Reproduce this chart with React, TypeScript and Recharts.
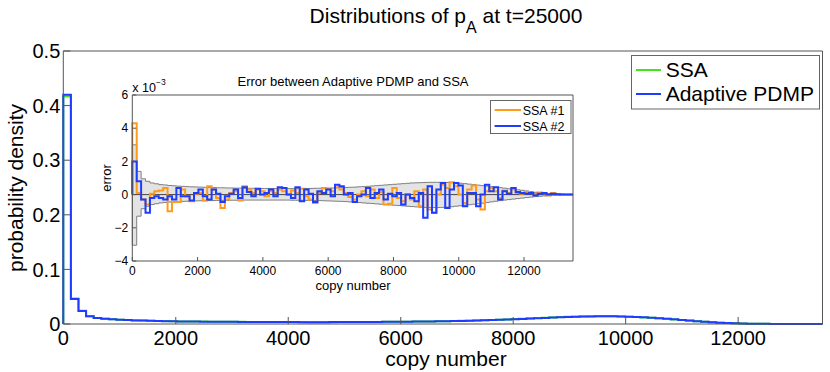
import { LineChart, Line, ComposedChart, Area, XAxis, YAxis, ReferenceLine } from 'recharts'

const FONT = "'Liberation Sans', Arial, Helvetica, sans-serif"
const AXIS = '#555'
const GREEN = '#44e31b'
const BLUE = '#1d3cff'
const ORANGE = '#ff9a1a'

// histogram bins: 100 bins of width 135 over [0, 13500]
const BIN_WIDTH = 135
const X_MAX = 13500

const xTicks = [0, 2000, 4000, 6000, 8000, 10000, 12000]
const mainYTicks = [0, 0.1, 0.2, 0.3, 0.4, 0.5]
const insetYTicks = [-4, -2, 0, 2, 4, 6]

// --- main panel: probability density per bin ---

const ssaDensity = [
  0.4165, 0.0465, 0.0243, 0.0141, 0.0112, 0.0096, 0.0087, 0.0079, 0.0073, 0.0067,
  0.0063, 0.0059, 0.0056, 0.0053, 0.0051, 0.0048, 0.0047, 0.0045, 0.0044, 0.0042,
  0.0041, 0.004, 0.0039, 0.0039, 0.0038, 0.0037, 0.0036, 0.0036, 0.0036, 0.0035,
  0.0035, 0.0035, 0.0034, 0.0034, 0.0034, 0.0034, 0.0035, 0.0035, 0.0036, 0.0036,
  0.0037, 0.0038, 0.0039, 0.004, 0.0041, 0.0043, 0.0044, 0.0046, 0.0048, 0.005,
  0.0052, 0.0055, 0.0058, 0.0061, 0.0065, 0.0069, 0.0074, 0.0079, 0.0084, 0.009,
  0.0096, 0.0102, 0.0108, 0.0114, 0.012, 0.0126, 0.0131, 0.0135, 0.0139, 0.0142,
  0.0144, 0.0144, 0.0142, 0.0139, 0.0134, 0.0128, 0.0121, 0.0113, 0.0104, 0.0094,
  0.0083, 0.0072, 0.0061, 0.0051, 0.0041, 0.0032, 0.0024, 0.0018, 0.0013, 0.0009,
  0.0006, 0.0004, 0.0003, 0.0002, 0.0001, 0.0001, 0.00005, 0.00003, 0.00002, 0.00001,
]

const pdmpDensity = [
  0.42, 0.046, 0.024, 0.014, 0.011, 0.0095, 0.0085, 0.0078, 0.0072, 0.0066,
  0.0062, 0.0058, 0.0055, 0.0052, 0.005, 0.0048, 0.0046, 0.0045, 0.0043, 0.0042,
  0.0041, 0.004, 0.0039, 0.0038, 0.0038, 0.0037, 0.0036, 0.0036, 0.0035, 0.0035,
  0.0035, 0.0034, 0.0034, 0.0034, 0.0034, 0.0035, 0.0035, 0.0035, 0.0036, 0.0036,
  0.0037, 0.0038, 0.0039, 0.004, 0.0041, 0.0042, 0.0044, 0.0045, 0.0047, 0.0049,
  0.0051, 0.0054, 0.0057, 0.006, 0.0064, 0.0068, 0.0072, 0.0077, 0.0082, 0.0088,
  0.0093, 0.0099, 0.0105, 0.0111, 0.0117, 0.0123, 0.0128, 0.0132, 0.0136, 0.0139,
  0.0141, 0.0142, 0.0141, 0.0139, 0.0135, 0.013, 0.0123, 0.0115, 0.0106, 0.0096,
  0.0085, 0.0074, 0.0063, 0.0052, 0.0042, 0.0033, 0.0025, 0.0018, 0.0013, 0.0009,
  0.0006, 0.0004, 0.0003, 0.0002, 0.0001, 0.0001, 0.00005, 0.00003, 0.00002, 0.00001,
]

// --- inset: error per bin, in units of 1e-3 ---

const errSsa1 = [
  4.3, 0.1, -0.3, -0.6, 0.05, 0.2, 0.25, 0.4, -1.0, -0.45,
  -0.45, 0.3, -0.1, -0.4, 0.05, 0.1, -0.35, 0.5, 0.3, -0.2,
  -0.8, -0.3, 0.1, 0.2, -0.35, 0.5, 0.3, 0.1, 0.3, 0.2,
  -0.1, 0.2, 0.1, 0.3, 0.2, 0.0, 0.25, 0.1, 0.35, -0.1,
  -0.3, -0.5, 0.1, 0.4, 0.35, 0.2, 0.45, 0.3, 0.1, -0.15,
  -0.3, 0.0, 0.2, -0.1, 0.3, -0.2, 0.15, -0.6, -0.55, 0.4,
  -0.2, -0.4, 0.0, -0.3, 0.2, -0.7, 0.3, -0.9, -1.1, 0.0,
  0.6, 0.4, 0.75, 0.5, 0.0, -0.5, 0.3, 0.55, -0.3, -0.9,
  0.2, 0.4, 0.2, -0.2, 0.25, 0.1, 0.3, 0.1, 0.05, 0.15,
  0.1, 0.05, 0.12, 0.08, -0.05, 0.1, 0.03, 0.02, 0.0, 0.0,
]

const errSsa2 = [
  2.0, 0.8, -0.3, -1.1, -0.2, -0.1, -0.2, -0.3, -0.1, -0.3,
  0.4, -0.1, -0.1, -0.35, 0.1, 0.3, -0.1, -0.3, 0.3, 0.05,
  -0.45, -0.1, 0.05, 0.3, -0.2, 0.45, 0.15, -0.1, 0.35, 0.0,
  0.1, 0.3, -0.1, 0.45, 0.4, 0.0, -0.2, 0.45, -0.4, 0.3,
  0.05, -0.45, 0.2, 0.1, 0.3, -0.1, 0.6, 0.5, 0.0, 0.1,
  -0.45, -0.1, 0.0, 0.4, -0.2, 0.1, 0.3, -0.3, 0.05, -0.1,
  0.1, -0.6, 0.0, -0.2, -0.4, 0.1, -1.4, 0.5, -1.1, 0.3,
  0.7, -0.8, 0.3, 0.7, 0.55, -0.7, 0.1, 0.1, -0.7, 0.0,
  0.6, 0.2, 0.45, -0.3, 0.2, 0.05, 0.4, 0.15, 0.1, 0.05,
  0.1, -0.05, 0.05, 0.1, 0.0, 0.05, 0.02, 0.0, 0.0, 0.0,
]

const bandUpper = [
  3.0, 1.4, 0.95, 0.8, 0.7, 0.65, 0.6, 0.58, 0.55, 0.53,
  0.51, 0.5, 0.48, 0.47, 0.46, 0.45, 0.44, 0.43, 0.42, 0.41,
  0.41, 0.4, 0.4, 0.39, 0.39, 0.38, 0.38, 0.38, 0.37, 0.37,
  0.37, 0.37, 0.36, 0.36, 0.36, 0.36, 0.36, 0.36, 0.37, 0.37,
  0.37, 0.38, 0.38, 0.39, 0.39, 0.4, 0.41, 0.42, 0.43, 0.44,
  0.45, 0.47, 0.48, 0.5, 0.52, 0.54, 0.56, 0.58, 0.6, 0.62,
  0.64, 0.66, 0.68, 0.7, 0.71, 0.72, 0.73, 0.74, 0.74, 0.74,
  0.74, 0.73, 0.72, 0.7, 0.68, 0.66, 0.63, 0.6, 0.57, 0.54,
  0.51, 0.48, 0.45, 0.42, 0.39, 0.35, 0.32, 0.29, 0.26, 0.22,
  0.18, 0.14, 0.11, 0.08, 0.06, 0.04, 0.03, 0.02, 0.01, 0.01,
]

const bandLower = [
  -3.05, -1.3, -0.85, -0.7, -0.6, -0.55, -0.5, -0.47, -0.45, -0.43,
  -0.42, -0.41, -0.4, -0.39, -0.38, -0.37, -0.37, -0.36, -0.36, -0.35,
  -0.35, -0.35, -0.34, -0.34, -0.34, -0.33, -0.33, -0.33, -0.33, -0.33,
  -0.33, -0.33, -0.33, -0.33, -0.33, -0.33, -0.34, -0.34, -0.34, -0.35,
  -0.35, -0.36, -0.36, -0.37, -0.38, -0.39, -0.4, -0.41, -0.42, -0.44,
  -0.46, -0.48, -0.5, -0.52, -0.54, -0.56, -0.58, -0.6, -0.62, -0.64,
  -0.66, -0.68, -0.7, -0.72, -0.74, -0.76, -0.77, -0.78, -0.78, -0.78,
  -0.77, -0.75, -0.73, -0.7, -0.67, -0.64, -0.61, -0.58, -0.55, -0.52,
  -0.48, -0.44, -0.4, -0.36, -0.33, -0.3, -0.27, -0.24, -0.21, -0.18,
  -0.15, -0.12, -0.1, -0.08, -0.06, -0.04, -0.03, -0.02, -0.01, -0.01,
]

// stairs rows: start at zero, one row per bin start, closing row at X_MAX
const last = pdmpDensity.length - 1

const mainRows = [
  { x: 0, ssa: 0, pdmp: 0 },
  ...pdmpDensity.map((v, i) => ({ x: i * BIN_WIDTH, ssa: ssaDensity[i], pdmp: v })),
  { x: X_MAX, ssa: ssaDensity[last], pdmp: pdmpDensity[last] },
]

const insetRows = [
  { x: 0, ssa1: 0, ssa2: 0, band: [0, 0] },
  ...errSsa1.map((v, i) => ({
    x: i * BIN_WIDTH,
    ssa1: v,
    ssa2: errSsa2[i],
    band: [bandLower[i], bandUpper[i]],
  })),
  {
    x: X_MAX,
    ssa1: errSsa1[last],
    ssa2: errSsa2[last],
    band: [bandLower[last], bandUpper[last]],
  },
]

const minus = (v: number) => (v < 0 ? `\u2212${Math.abs(v)}` : String(v))

export default function App() {
  return (
    <div style={{ position: 'absolute', left: 0, top: 0, width: 830, height: 372, background: '#fff', fontFamily: FONT }}>
      {/* main panel */}
      <div style={{ position: 'absolute', left: 0, top: 0 }}>
        <LineChart width={830} height={372} data={mainRows} margin={{ top: 50, right: 6.5, bottom: 0, left: 8 }}>
          <XAxis
            dataKey="x"
            type="number"
            domain={[0, X_MAX]}
            ticks={xTicks}
            height={48}
            stroke={AXIS}
            tickSize={-7}
            tickMargin={14}
            tick={{ fontSize: 20, fill: '#000', fontFamily: FONT }}
          />
          <XAxis
            xAxisId="top"
            orientation="top"
            dataKey="x"
            type="number"
            domain={[0, X_MAX]}
            ticks={xTicks}
            height={1}
            stroke={AXIS}
            tickSize={-7}
            tick={false}
          />
          <YAxis
            type="number"
            domain={[0, 0.5]}
            ticks={mainYTicks}
            width={55.3}
            stroke={AXIS}
            tickSize={-7}
            tickMargin={10}
            tick={{ fontSize: 20, fill: '#000', fontFamily: FONT }}
          />
          <YAxis
            yAxisId="right"
            orientation="right"
            type="number"
            domain={[0, 0.5]}
            ticks={mainYTicks}
            width={1}
            stroke={AXIS}
            tickSize={-7}
            tick={false}
          />
          <Line type="stepAfter" dataKey="ssa" stroke={GREEN} strokeWidth={2} dot={false} activeDot={false} isAnimationActive={false} />
          <Line type="stepAfter" dataKey="pdmp" stroke={BLUE} strokeWidth={2} dot={false} activeDot={false} isAnimationActive={false} />
        </LineChart>
      </div>

      {/* inset: error between Adaptive PDMP and SSA */}
      <div style={{ position: 'absolute', left: 90, top: 70 }}>
        <ComposedChart width={500} height={230} data={insetRows} margin={{ top: 24, right: 16, bottom: 0, left: 12.3 }}>
          <XAxis
            dataKey="x"
            type="number"
            domain={[0, X_MAX]}
            ticks={xTicks}
            height={39}
            stroke={AXIS}
            tickSize={-4}
            tickMargin={9}
            tick={{ fontSize: 12, fill: '#000', fontFamily: FONT }}
          />
          <XAxis
            xAxisId="top"
            orientation="top"
            dataKey="x"
            type="number"
            domain={[0, X_MAX]}
            ticks={xTicks}
            height={1}
            stroke={AXIS}
            tickSize={-4}
            tick={false}
          />
          <YAxis
            type="number"
            domain={[-4, 6]}
            ticks={insetYTicks}
            width={30}
            stroke={AXIS}
            tickSize={-4}
            tickMargin={8}
            tickFormatter={minus}
            tick={{ fontSize: 12, fill: '#000', fontFamily: FONT }}
          />
          <YAxis
            yAxisId="right"
            orientation="right"
            type="number"
            domain={[-4, 6]}
            ticks={insetYTicks}
            width={1}
            stroke={AXIS}
            tickSize={-4}
            tick={false}
          />
          <Area
            type="stepAfter"
            dataKey="band"
            fill="#e3e3e3"
            fillOpacity={1}
            stroke="#7f7f7f"
            strokeWidth={1}
            dot={false}
            activeDot={false}
            isAnimationActive={false}
          />
          <ReferenceLine y={0} stroke="#444" strokeWidth={1} />
          <Line type="stepAfter" dataKey="ssa1" stroke={ORANGE} strokeWidth={2} dot={false} activeDot={false} isAnimationActive={false} />
          <Line type="stepAfter" dataKey="ssa2" stroke={BLUE} strokeWidth={2} dot={false} activeDot={false} isAnimationActive={false} />
        </ComposedChart>
      </div>

      {/* titles, axis labels, legends */}
      <svg width={830} height={372} style={{ position: 'absolute', left: 0, top: 0, pointerEvents: 'none' }} fontFamily={FONT}>
        <text x={446} y={23} fontSize={21} textAnchor="middle" fill="#000">
          Distributions of p<tspan dy={10} fontSize={16}>A</tspan>
          <tspan dy={-10}> at t=25000</tspan>
        </text>
        <text x={446} y={366} fontSize={21} textAnchor="middle" fill="#000">copy number</text>
        <text transform="translate(22.5,188) rotate(-90)" fontSize={21} textAnchor="middle" fill="#000">
          probability density
        </text>

        <rect x={631.5} y={55.5} width={188} height={53.5} fill="#fff" stroke="#666" strokeWidth={1} />
        <line x1={636} x2={661} y1={70} y2={70} stroke={GREEN} strokeWidth={2} />
        <text x={665.7} y={77} fontSize={21} fill="#000">SSA</text>
        <line x1={636} x2={661} y1={94} y2={94} stroke={BLUE} strokeWidth={2} />
        <text x={665.7} y={100.5} fontSize={21} fill="#000">Adaptive PDMP</text>

        <text x={353} y={85.5} fontSize={13} textAnchor="middle" fill="#000">Error between Adaptive PDMP and SSA</text>
        <text x={132.3} y={92} fontSize={12.5} fill="#000">
          x 10<tspan dy={-7} fontSize={8.5}>−3</tspan>
        </text>
        <text transform="translate(111,178) rotate(-90)" fontSize={13} textAnchor="middle" fill="#000">error</text>
        <text x={353} y={289.5} fontSize={13} textAnchor="middle" fill="#000">copy number</text>

        <rect x={490.5} y={100.5} width={80.5} height={33} fill="#fff" stroke="#666" strokeWidth={1} />
        <line x1={494.6} x2={521} y1={110} y2={110} stroke={ORANGE} strokeWidth={2} />
        <text x={522.7} y={114.5} fontSize={12.5} fill="#000">SSA #1</text>
        <line x1={494.6} x2={521} y1={126} y2={126} stroke={BLUE} strokeWidth={2} />
        <text x={522.7} y={130.5} fontSize={12.5} fill="#000">SSA #2</text>
      </svg>
    </div>
  )
}
